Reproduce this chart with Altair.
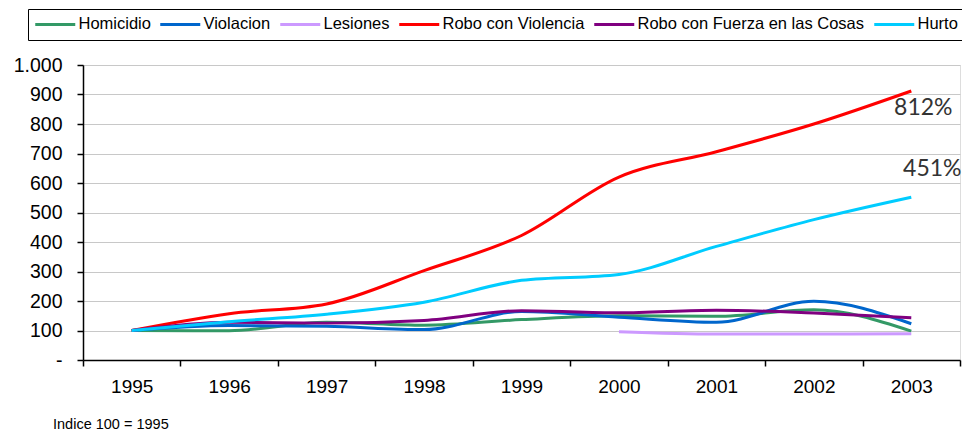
import altair as alt
import pandas as pd

years = ["1995", "1996", "1997", "1998", "1999", "2000", "2001", "2002", "2003"]
series = ["Homicidio", "Violacion", "Lesiones", "Robo con Violencia",
          "Robo con Fuerza en las Cosas", "Hurto"]
homicidio = [100, 99, 128, 118, 137, 150, 148, 170, 98]
violacion = [100, 117, 114, 103, 164, 145, 128, 199, 123]
lesiones = [None, None, None, None, None, 96, 88, 88, 89]
robo_violencia = [100, 157, 190, 303, 422, 620, 706, 800, 912]
robo_fuerza = [100, 128, 125, 134, 167, 160, 169, 159, 143]
hurto = [100, 130, 155, 196, 270, 290, 385, 476, 552]
colors = ["#339966", "#0066cc", "#cc99ff", "#ff0000", "#800080", "#00ccff"]

ann_text = ["812%", "451%"]
ann_year = ["2003", "2003"]
ann_value = [853, 646]
footnote = "Indice 100 = 1995"

values = [homicidio, violacion, lesiones, robo_violencia, robo_fuerza, hurto]
rows = []
for s, vals in zip(series, values):
    for y, v in zip(years, vals):
        rows.append({"Año": y, "Serie": s, "Indice": v})
df = pd.DataFrame(rows)

FONT = "Liberation Sans"

x_enc = alt.X(
    "Año:O",
    scale=alt.Scale(type="band", paddingInner=0, paddingOuter=0, domain=years),
    bandPosition=0.5,
    axis=alt.Axis(title=None, labelAngle=0, tickBand="extent", grid=False,
                  domainColor="black", tickColor="black", tickSize=6,
                  domainWidth=1.5, tickWidth=1.5, labelFontSize=19,
                  labelFont=FONT, labelColor="black", labelPadding=11,
                  labelOverlap=False),
)
y_enc = alt.Y(
    "Indice:Q",
    scale=alt.Scale(domain=[0, 1000], nice=False),
    axis=alt.Axis(title=None, values=list(range(0, 1001, 100)), grid=True,
                  gridColor="#c8c8c8", gridWidth=1.2, domainColor="black",
                  tickColor="black", tickSize=6, tickWidth=1.5, domainWidth=1.5,
                  labelFontSize=19.5, labelFont=FONT, labelColor="black",
                  labelPadding=15, labelOverlap=False, labelBound=False,
                  labelExpr="datum.value == 0 ? '-' : replace(format(datum.value, ','), ',', '.')"),
)

lines = alt.Chart(df).mark_line(strokeWidth=3, interpolate="monotone").encode(
    x=x_enc,
    y=y_enc,
    color=alt.Color(
        "Serie:N",
        scale=alt.Scale(domain=series, range=colors),
        sort=series,
        legend=alt.Legend(
            title=None, orient="none", legendX=-55, legendY=-56,
            direction="horizontal", columns=6, symbolType="M-4,0L4,0",
            symbolSize=100, symbolOffset=12, symbolStrokeWidth=3,
            labelFontSize=16.5, labelFont=FONT, labelColor="black",
            labelOffset=15, labelLimit=400, columnPadding=3,
            strokeColor="black", padding=7,
        ),
    ),
    order=alt.Order("Serie:N"),
)

ann_df = pd.DataFrame({"Año": ann_year, "Indice": ann_value, "t": ann_text})
ann1 = alt.Chart(ann_df.iloc[[0]]).mark_text(
    font="Lato", fontSize=23, color="#333333", align="center", baseline="middle", dx=12
).encode(x=x_enc, y=y_enc, text="t:N")
ann2 = alt.Chart(ann_df.iloc[[1]]).mark_text(
    font="Lato", fontSize=23, color="#333333", align="center", baseline="middle", dx=21
).encode(x=x_enc, y=y_enc, text="t:N")

foot = alt.Chart(alt.Data(values=[{"t": footnote}])).mark_text(
    font=FONT, fontSize=14.5, color="black", align="left", baseline="middle"
).encode(x=alt.value(-30), y=alt.value(360), text="t:N")

chart = alt.layer(lines, ann1, ann2, foot).properties(
    width=877, height=295,
    autosize=alt.AutoSizeParams(type="none"),
    padding={"left": 75, "top": 57, "right": 2, "bottom": 72},
).configure_view(stroke="black", strokeWidth=1.5).configure(background="white")

chart.save("out.html", embed_options={"renderer": "svg", "actions": False})
